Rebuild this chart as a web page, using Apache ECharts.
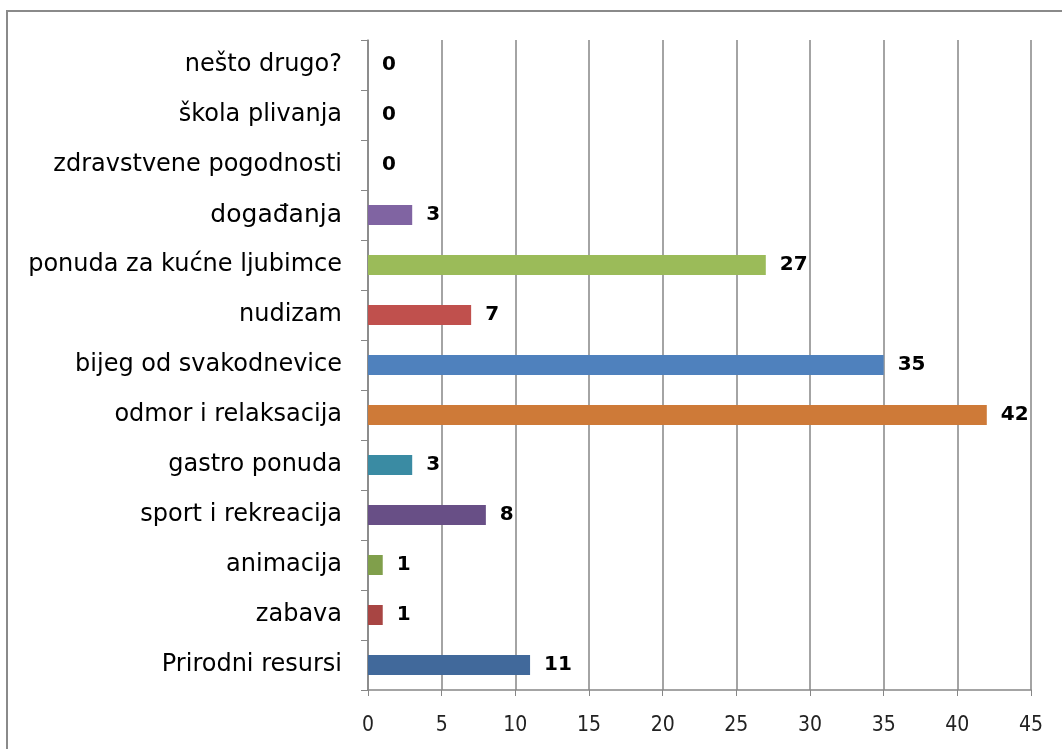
<!DOCTYPE html>
<html>
<head>
<meta charset="utf-8">
<script src="https://cdn.jsdelivr.net/npm/echarts@6/dist/echarts.min.js"></script>
<style>
  html, body { margin: 0; padding: 0; background: #fff; }
  #chart { width: 1062px; height: 749px; }
</style>
</head>
<body>
<div id="chart"></div>
<script>
// categories listed bottom -> top
const categories = [
  'Prirodni resursi', 'zabava', 'animacija', 'sport i rekreacija', 'gastro ponuda',
  'odmor i relaksacija', 'bijeg od svakodnevice', 'nudizam', 'ponuda za kućne ljubimce',
  'događanja', 'zdravstvene pogodnosti', 'škola plivanja', 'nešto drugo?'
];
const values = [11, 1, 1, 8, 3, 42, 35, 7, 27, 3, 0, 0, 0];
const barColors = [
  '#41699b', '#a84543', '#809f4b', '#684f86', '#3a8ba3',
  '#ce7a38', '#4f81bd', '#c0504d', '#9bbb59', '#8064a2', '#8064a2', '#8064a2', '#8064a2'
];

const chart = echarts.init(document.getElementById('chart'));
chart.setOption({
  animation: false,
  textStyle: { fontFamily: '"DejaVu Sans", sans-serif' },
  graphic: [{
    type: 'rect',
    shape: { x: 7, y: 11, width: 1070, height: 760 },
    style: { fill: 'none', stroke: '#8a8a8a', lineWidth: 2 },
    silent: true
  }],
  grid: { left: 368, right: 31, top: 40, bottom: 59 },
  xAxis: {
    type: 'value',
    min: 0, max: 45, interval: 5,
    axisLine: { show: true, lineStyle: { color: '#868686', width: 1.5 } },
    axisTick: { show: true, length: 6, lineStyle: { color: '#868686' } },
    splitLine: { show: true, lineStyle: { color: '#868686', width: 1.5 } },
    axisLabel: {
      color: '#222', fontSize: 21, margin: 25,
      fontFamily: '"DejaVu Sans Condensed", "DejaVu Sans", sans-serif'
    }
  },
  yAxis: {
    type: 'category',
    data: categories,
    axisLine: { show: true, lineStyle: { color: '#868686', width: 1.5 } },
    axisTick: { show: true, length: 7, lineStyle: { color: '#868686' } },
    axisLabel: {
      color: '#000', fontSize: 24, margin: 26,
      formatter: v => v === 'događanja' ? '{big|' + v + '}' : v,
      rich: { big: { fontSize: 25, color: '#000', fontFamily: '"DejaVu Sans", sans-serif' } }
    }
  },
  series: [{
    type: 'bar',
    data: values,
    barWidth: 20,
    itemStyle: { color: p => barColors[p.dataIndex] },
    label: {
      show: true,
      position: 'right',
      distance: 14,
      color: '#000',
      fontSize: 20,
      fontWeight: 'bold'
    }
  }]
});
</script>
</body>
</html>
